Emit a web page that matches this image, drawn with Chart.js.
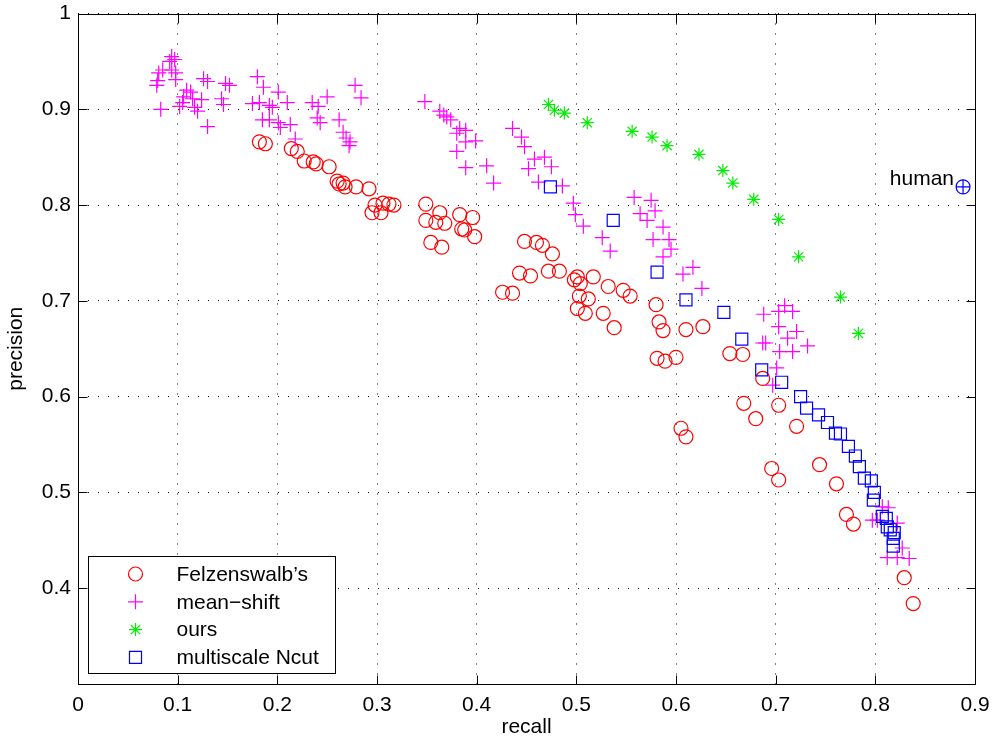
<!DOCTYPE html>
<html>
<head>
<meta charset="utf-8">
<script src="https://cdn.jsdelivr.net/npm/chart.js@4.4.0/dist/chart.umd.min.js"></script>
<style>
html, body { margin: 0; padding: 0; background: #fff; }
</style>
</head>
<body>
<canvas id="c" width="993" height="740"></canvas>
<script>
// recall / precision pairs
var felzenszwalb = [
  [0.182,0.866],[0.188,0.864],[0.214,0.859],[0.220,0.856],[0.227,0.846],[0.236,0.845],
  [0.239,0.843],[0.252,0.840],[0.260,0.825],[0.262,0.822],[0.266,0.823],[0.268,0.819],
  [0.279,0.819],[0.292,0.817],[0.298,0.800],[0.306,0.802],[0.312,0.801],[0.317,0.800],
  [0.295,0.792],[0.304,0.792],[0.349,0.801],[0.349,0.784],[0.363,0.792],[0.359,0.782],
  [0.368,0.781],[0.383,0.790],[0.396,0.787],[0.385,0.775],[0.388,0.774],[0.398,0.767],
  [0.354,0.761],[0.365,0.756],[0.448,0.762],[0.460,0.761],[0.466,0.758],[0.476,0.749],
  [0.443,0.729],[0.454,0.726],[0.472,0.731],[0.483,0.731],[0.426,0.709],[0.436,0.708],
  [0.498,0.722],[0.501,0.725],[0.504,0.718],[0.503,0.705],[0.512,0.702],[0.501,0.692],
  [0.509,0.687],[0.517,0.725],[0.532,0.715],[0.547,0.711],[0.554,0.705],[0.527,0.687],
  [0.538,0.672],[0.580,0.696],[0.583,0.678],[0.587,0.669],[0.610,0.670],[0.627,0.673],
  [0.581,0.640],[0.589,0.637],[0.600,0.641],[0.654,0.645],[0.667,0.644],[0.687,0.619],
  [0.703,0.591],[0.668,0.593],[0.680,0.577],[0.721,0.569],[0.605,0.567],[0.610,0.558],
  [0.696,0.525],[0.703,0.513],[0.744,0.529],[0.761,0.509],[0.771,0.477],[0.778,0.467],
  [0.829,0.411],[0.838,0.384]
];

var meanShift = [
  [0.094,0.955],[0.092,0.950],[0.097,0.952],[0.081,0.938],[0.085,0.941],[0.080,0.930],
  [0.079,0.925],[0.094,0.941],[0.098,0.938],[0.098,0.931],[0.083,0.900],[0.109,0.920],
  [0.113,0.918],[0.106,0.913],[0.105,0.907],[0.102,0.903],[0.115,0.911],[0.124,0.910],
  [0.117,0.902],[0.120,0.898],[0.130,0.882],[0.126,0.932],[0.130,0.929],[0.148,0.927],
  [0.152,0.925],[0.144,0.911],[0.146,0.905],[0.180,0.934],[0.186,0.923],[0.175,0.906],
  [0.182,0.907],[0.192,0.904],[0.195,0.902],[0.185,0.889],[0.192,0.889],[0.201,0.918],
  [0.201,0.886],[0.203,0.881],[0.213,0.884],[0.210,0.907],[0.218,0.869],[0.235,0.907],
  [0.241,0.903],[0.240,0.891],[0.243,0.886],[0.250,0.913],[0.262,0.889],[0.266,0.876],
  [0.269,0.870],[0.273,0.866],[0.272,0.862],[0.278,0.925],[0.284,0.912],
  [0.348,0.908],[0.363,0.898],[0.367,0.894],[0.370,0.892],[0.374,0.889],[0.383,0.880],
  [0.389,0.878],[0.380,0.875],[0.389,0.866],[0.399,0.867],[0.380,0.856],[0.389,0.839],
  [0.410,0.841],[0.417,0.823],[0.436,0.880],[0.445,0.871],[0.448,0.861],[0.458,0.848],
  [0.468,0.850],[0.452,0.838],[0.475,0.840],[0.462,0.824],[0.486,0.820],[0.497,0.802],
  [0.499,0.790],[0.507,0.778],[0.526,0.766],[0.534,0.752],[0.558,0.808],[0.575,0.805],
  [0.564,0.791],[0.571,0.784],[0.579,0.794],[0.587,0.777],[0.577,0.764],[0.593,0.764],
  [0.595,0.754],[0.587,0.746],[0.607,0.728],[0.617,0.735],[0.626,0.713],
  [0.688,0.686],[0.703,0.689],[0.709,0.695],[0.717,0.689],[0.703,0.673],[0.712,0.661],
  [0.721,0.668],[0.732,0.653],[0.687,0.656],[0.690,0.656],[0.704,0.647],[0.717,0.647],
  [0.701,0.630],[0.697,0.612],[0.797,0.471],[0.802,0.471],[0.807,0.485],[0.813,0.484],
  [0.822,0.468],[0.827,0.442],[0.812,0.432],[0.822,0.432],[0.834,0.431]
];

var ours = [
  [0.472,0.905],[0.478,0.899],[0.488,0.896],[0.511,0.886],[0.556,0.877],[0.576,0.871],
  [0.591,0.862],[0.623,0.853],[0.647,0.836],[0.657,0.823],[0.678,0.806],[0.703,0.785],
  [0.723,0.746],[0.765,0.704],[0.783,0.666]
];

var multiscaleNcut = [
  [0.474,0.819],[0.537,0.784],[0.581,0.730],[0.610,0.701],[0.648,0.688],[0.666,0.660],
  [0.686,0.628],[0.706,0.615],[0.725,0.600],[0.731,0.588],[0.743,0.581],[0.752,0.573],
  [0.760,0.562],[0.765,0.561],[0.773,0.548],[0.780,0.538],[0.784,0.527],[0.789,0.515],
  [0.796,0.512],[0.799,0.500],[0.798,0.492],[0.807,0.475],[0.811,0.473],[0.812,0.464],
  [0.815,0.461],[0.819,0.458],[0.818,0.452],[0.818,0.444]
];

var human = [[0.888,0.819]];

var seriesNames = ["Felzenswalb\u2019s", "mean\u2212shift", "ours", "multiscale Ncut"];

function pts(arr) {
  return arr.map(function (p) { return { x: p[0], y: p[1] }; });
}

var FONT = 'Liberation Sans, Arial, Helvetica, sans-serif';
Chart.defaults.font.family = FONT;
Chart.defaults.font.size = 21;
Chart.defaults.color = '#000';

var styles = [
  { color: '#ff0000', pointStyle: 'circle', r: 7 },
  { color: '#ff00ff', pointStyle: 'cross', r: 7.5 },
  { color: '#00ee00', pointStyle: 'star', r: 6.5 },
  { color: '#0000ff', pointStyle: 'rect', r: 8.5 }
];

function fmt(v) {
  if (Math.abs(v) < 1e-9) return '0';
  if (Math.abs(v - 1) < 1e-9) return '1';
  return v.toFixed(1);
}

function drawMarker(ctx, style, x, y) {
  ctx.save();
  ctx.strokeStyle = style.color;
  ctx.lineWidth = 1.2;
  ctx.beginPath();
  var r = style.r;
  if (style.pointStyle === 'circle') {
    ctx.arc(x, y, r, 0, Math.PI * 2);
  } else if (style.pointStyle === 'cross') {
    ctx.moveTo(x - r, y); ctx.lineTo(x + r, y);
    ctx.moveTo(x, y - r); ctx.lineTo(x, y + r);
  } else if (style.pointStyle === 'star') {
    ctx.moveTo(x - r, y); ctx.lineTo(x + r, y);
    ctx.moveTo(x, y - r); ctx.lineTo(x, y + r);
    var d = r * Math.SQRT1_2;
    ctx.moveTo(x - d, y - d); ctx.lineTo(x + d, y + d);
    ctx.moveTo(x - d, y + d); ctx.lineTo(x + d, y - d);
  } else {
    var s = r * Math.SQRT1_2;
    ctx.rect(x - s, y - s, 2 * s, 2 * s);
  }
  ctx.stroke();
  ctx.restore();
}

// box, inward ticks, legend and the "human" label, MATLAB style
var matlabFrame = {
  id: 'matlabFrame',
  afterDatasetsDraw: function (chart) {
    var ctx = chart.ctx, a = chart.chartArea;
    var xs = chart.scales.x, ys = chart.scales.y;
    var L = Math.round(a.left) + 0.5, R = Math.round(a.right) + 0.5;
    var T = Math.round(a.top) + 0.5, B = Math.round(a.bottom) + 0.5;
    ctx.save();
    ctx.strokeStyle = '#000';
    ctx.lineWidth = 1;
    ctx.strokeRect(L, T, R - L, B - T);
    ctx.beginPath();
    xs.ticks.forEach(function (t) {
      var px = Math.round(xs.getPixelForValue(t.value)) + 0.5;
      ctx.moveTo(px, B); ctx.lineTo(px, B - 9);
      ctx.moveTo(px, T); ctx.lineTo(px, T + 9);
    });
    ys.ticks.forEach(function (t) {
      var py = Math.round(ys.getPixelForValue(t.value)) + 0.5;
      ctx.moveTo(L, py); ctx.lineTo(L + 9, py);
      ctx.moveTo(R, py); ctx.lineTo(R - 9, py);
    });
    ctx.stroke();

    // human label
    var hx = xs.getPixelForValue(human[0][0]);
    var hy = ys.getPixelForValue(human[0][1]);
    ctx.fillStyle = '#000';
    ctx.font = '21px ' + FONT;
    ctx.textAlign = 'right';
    ctx.textBaseline = 'alphabetic';
    ctx.fillText('human', hx - 9, hy - 2);

    // legend
    var bx = L + 10, by = B - 128, bw = 247, bh = 117;
    ctx.fillStyle = '#fff';
    ctx.fillRect(bx, by, bw, bh);
    ctx.strokeRect(bx, by, bw, bh);
    ctx.textAlign = 'left';
    ctx.textBaseline = 'middle';
    for (var i = 0; i < seriesNames.length; i++) {
      var yy = by + 17.5 + i * 27.8;
      drawMarker(ctx, styles[i], bx + 47, yy);
      ctx.fillStyle = '#000';
      ctx.fillText(seriesNames[i], bx + 88, yy + 1);
    }
    ctx.restore();
  }
};

var sets = [felzenszwalb, meanShift, ours, multiscaleNcut];
var datasets = sets.map(function (arr, i) {
  return {
    label: seriesNames[i],
    data: pts(arr),
    pointStyle: styles[i].pointStyle,
    pointRadius: styles[i].r,
    pointBorderWidth: 1.2,
    pointBorderColor: styles[i].color,
    pointBackgroundColor: 'rgba(0,0,0,0)',
    order: 10 - i
  };
});
datasets.push({
  label: 'human',
  data: pts(human),
  pointStyle: 'circle',
  pointRadius: 7,
  pointBorderWidth: 1.2,
  pointBorderColor: '#0000ff',
  pointBackgroundColor: 'rgba(0,0,0,0)',
  order: 1
});
datasets.push({
  label: 'human ',
  data: pts(human),
  pointStyle: 'cross',
  pointRadius: 7,
  pointBorderWidth: 1.2,
  pointBorderColor: '#0000ff',
  order: 0
});

var chart = new Chart(document.getElementById('c'), {
  type: 'scatter',
  data: { datasets: datasets },
  options: {
    responsive: false,
    animation: false,
    devicePixelRatio: 1,
    layout: { padding: { top: 13.5, right: 18, left: 0, bottom: 0 } },
    plugins: { legend: { display: false }, tooltip: { enabled: false } },
    scales: {
      x: {
        type: 'linear', min: 0, max: 0.9,
        ticks: { stepSize: 0.1, padding: 9, callback: function (v) { return fmt(v); } },
        grid: { color: '#000', lineWidth: 1, drawTicks: false },
        border: { display: false, dash: [1, 9] },
        title: { display: true, text: 'recall', padding: { top: 0, bottom: 0 } },
        afterFit: function (s) { s.height = 56; s.paddingLeft = 0; s.paddingRight = 0; }
      },
      y: {
        type: 'linear', min: 0.3, max: 1,
        ticks: {
          stepSize: 0.1, padding: 7,
          callback: function (v) { return Math.abs(v - 0.3) < 1e-6 ? '' : fmt(v); }
        },
        grid: { color: '#000', lineWidth: 1, drawTicks: false },
        border: { display: false, dash: [1, 9] },
        title: { display: true, text: 'precision', padding: { top: 4, bottom: 0 } },
        afterFit: function (s) { s.width = 78; s.paddingTop = 0; s.paddingBottom = 0; }
      }
    }
  },
  plugins: [matlabFrame]
});
</script>
</body>
</html>
